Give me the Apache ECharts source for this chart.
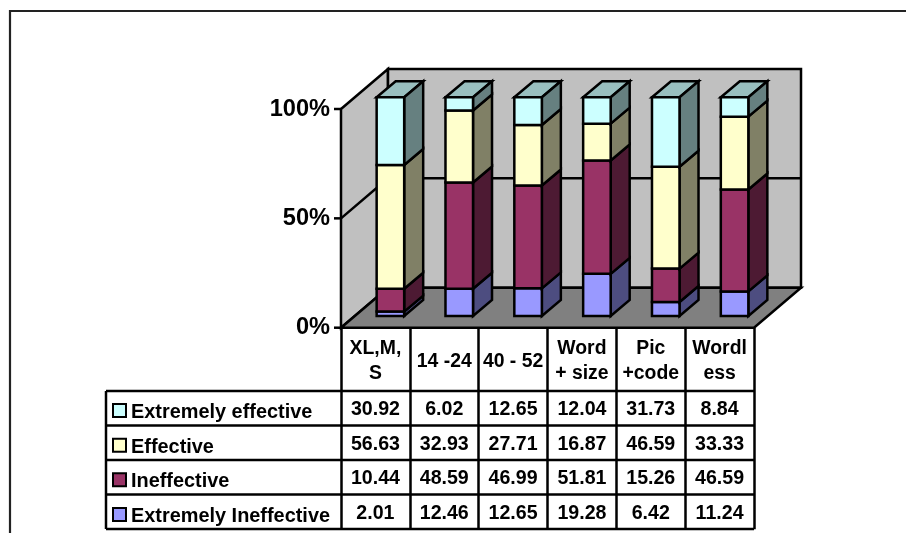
<!DOCTYPE html>
<html>
<head>
<meta charset="utf-8">
<style>
html,body{margin:0;padding:0;background:#fff}
#chart{width:906px;height:533px}
</style>
<script src="https://cdn.jsdelivr.net/npm/echarts@6/dist/echarts.min.js"></script>
</head>
<body>
<div id="chart"></div>
<script>
// Share of ratings per label style
const categories = ['XL,M,\nS', '14 -24', '40 - 52', 'Word\n+ size', 'Pic\n+code', 'Wordl\ness'];
const extremelyIneffective = [2.01, 12.46, 12.65, 19.28, 6.42, 11.24];
const ineffective = [10.44, 48.59, 46.99, 51.81, 15.26, 46.59];
const effective = [56.63, 32.93, 27.71, 16.87, 46.59, 33.33];
const extremelyEffective = [30.92, 6.02, 12.65, 12.04, 31.73, 8.84];
const percentTicks = [0, 50, 100];

const seriesNames = ['Extremely Ineffective', 'Ineffective', 'Effective', 'Extremely effective'];
const seriesValues = [extremelyIneffective, ineffective, effective, extremelyEffective];
const faceColors = [
  { front: '#9999FF', side: '#4D4D80', top: '#7A7ACC' },
  { front: '#993366', side: '#4D1A33', top: '#7A2952' },
  { front: '#FFFFCC', side: '#808066', top: '#CCCCA3' },
  { front: '#CCFFFF', side: '#668080', top: '#99BFBF' }
];

const FONT = '"Liberation Sans", Arial, sans-serif';
const LINE = 2.5;
const TICK_LEN = 7;
// Oblique projection of the chart box and of each column within it
const WALL_DX = 47, WALL_DY = 40;
const BAR_SHIFT_X = 15, BAR_SHIFT_Y = 11.7, BAR_DX = 19, BAR_DY = 16;
const BAR_RATIO = 0.4;
// Data table below the plot
const TABLE_LEFT = 106, TABLE_TOP = 391, ROW_H = 34.5, CELL_TEXT_SHIFT = 1.8;
const tableRows = seriesNames.map((_, i) => 3 - i);

const lineStyle = { stroke: '#000', lineWidth: LINE, lineJoin: 'miter' };

function poly(points, fill) {
  return { type: 'polygon', shape: { points }, style: Object.assign({ fill }, lineStyle) };
}

function renderWalls(params, api) {
  const bw = api.size([1, 0])[0];
  const x0 = api.coord([0, 0])[0] - bw / 2;
  const x1 = api.coord([categories.length - 1, 0])[0] + bw / 2;
  const y0 = api.coord([0, 0])[1];
  const y100 = api.coord([0, 100])[1];
  const children = [
    poly([[x0, y100], [x0 + WALL_DX, y100 - WALL_DY], [x0 + WALL_DX, y0 - WALL_DY], [x0, y0]], '#C0C0C0'),
    poly([[x0 + WALL_DX, y100 - WALL_DY], [x1 + WALL_DX, y100 - WALL_DY], [x1 + WALL_DX, y0 - WALL_DY], [x0 + WALL_DX, y0 - WALL_DY]], '#C0C0C0'),
    poly([[x0, y0], [x0 + WALL_DX, y0 - WALL_DY], [x1 + WALL_DX, y0 - WALL_DY], [x1, y0]], '#808080')
  ];
  percentTicks.forEach(t => {
    const y = api.coord([0, t])[1];
    children.push({ type: 'line', shape: { x1: x0 - TICK_LEN, y1: y, x2: x0, y2: y }, style: lineStyle });
  });
  percentTicks.slice(1, -1).forEach(t => {
    const y = api.coord([0, t])[1];
    children.push({
      type: 'polyline',
      shape: { points: [[x0, y], [x0 + WALL_DX, y - WALL_DY], [x1 + WALL_DX, y - WALL_DY]] },
      style: Object.assign({ fill: 'none' }, lineStyle)
    });
  });
  return { type: 'group', children };
}

function renderSegment(colors, isTop) {
  return function (params, api) {
    const bw = api.size([1, 0])[0] * BAR_RATIO;
    const c = api.value(0);
    const low = api.coord([c, api.value(1)]);
    const high = api.coord([c, api.value(2)]);
    const l = low[0] + BAR_SHIFT_X - bw / 2, r = l + bw;
    const yb = low[1] - BAR_SHIFT_Y, yt = high[1] - BAR_SHIFT_Y;
    const children = [];
    if (isTop) {
      children.push(poly([[l, yt], [l + BAR_DX, yt - BAR_DY], [r + BAR_DX, yt - BAR_DY], [r, yt]], colors.top));
    }
    children.push(poly([[r, yb], [r + BAR_DX, yb - BAR_DY], [r + BAR_DX, yt - BAR_DY], [r, yt]], colors.side));
    children.push(poly([[l, yb], [r, yb], [r, yt], [l, yt]], colors.front));
    return { type: 'group', children };
  };
}

function renderTableLines(params, api) {
  const bw = api.size([1, 0])[0];
  const x1 = api.coord([categories.length - 1, 0])[0] + bw / 2;
  const children = [];
  for (let r = 0; r <= tableRows.length; r++) {
    const y = TABLE_TOP + r * ROW_H;
    children.push({ type: 'line', shape: { x1: TABLE_LEFT, y1: y, x2: x1, y2: y }, style: lineStyle });
  }
  children.push({
    type: 'line',
    shape: { x1: TABLE_LEFT, y1: TABLE_TOP, x2: TABLE_LEFT, y2: TABLE_TOP + tableRows.length * ROW_H },
    style: lineStyle
  });
  return { type: 'group', children };
}

function renderCell(params, api) {
  const x = api.coord([api.value(0), 0])[0];
  const y = TABLE_TOP + (api.value(1) + 0.5) * ROW_H + CELL_TEXT_SHIFT;
  return {
    type: 'text',
    style: {
      text: seriesValues[tableRows.length - 1 - api.value(1)][api.value(0)].toFixed(2),
      x, y, fill: '#000', align: 'center', verticalAlign: 'middle',
      font: 'bold 19.6px ' + FONT
    }
  };
}

const cumulative = categories.map(() => 0);
const barSeries = seriesNames.map((name, s) => {
  const data = categories.map((_, c) => {
    const from = cumulative[c];
    cumulative[c] += seriesValues[s][c];
    return [c, from, cumulative[c]];
  });
  return {
    name,
    type: 'custom',
    z: 3,
    renderItem: renderSegment(faceColors[s], s === seriesNames.length - 1),
    encode: { x: 0, y: [1, 2] },
    itemStyle: { color: faceColors[s].front, borderColor: '#000', borderWidth: 2 },
    data
  };
});

const cellData = [];
tableRows.forEach((_, r) => categories.forEach((_, c) => cellData.push([c, r])));

const chart = echarts.init(document.getElementById('chart'), null, { renderer: 'canvas' });
chart.setOption({
  animation: false,
  backgroundColor: '#fff',
  grid: { left: 341, top: 109, width: 413, height: 218.7, containLabel: false },
  legend: {
    orient: 'vertical',
    left: 112,
    top: 398.5,
    padding: 0,
    icon: 'rect',
    itemWidth: 13,
    itemHeight: 13,
    itemGap: 10.67,
    selectedMode: false,
    data: seriesNames.slice().reverse(),
    formatter: name => '{t|' + name + '}',
    textStyle: {
      color: '#000',
      rich: { t: { fontFamily: FONT, fontWeight: 'bold', fontSize: 19.9, color: '#000', height: 20, lineHeight: 20, padding: [4, 0, 0, 0] } }
    }
  },
  graphic: [{
    type: 'polyline',
    silent: true,
    shape: { points: [[10, 533], [10, 11], [906, 11]] },
    style: { fill: 'none', stroke: '#222', lineWidth: 2.2 }
  }],
  xAxis: {
    type: 'category',
    data: categories,
    axisLine: { show: false },
    axisTick: { show: true, length: 201.5, lineStyle: { color: '#000', width: LINE } },
    axisLabel: {
      interval: 0, margin: 33.5, color: '#000', fontFamily: FONT, fontWeight: 'bold',
      fontSize: 19.4, lineHeight: 25, verticalAlign: 'middle', align: 'center'
    }
  },
  yAxis: {
    type: 'value',
    min: 0,
    max: 100,
    interval: 50,
    splitLine: { show: false },
    axisLine: { show: true, onZero: false, lineStyle: { color: '#000', width: LINE } },
    axisTick: { show: false },
    axisLabel: {
      margin: 11, color: '#000', fontFamily: FONT, fontWeight: 'bold', fontSize: 23.6,
      padding: [2, 0, 0, 0],
      formatter: '{value}%'
    }
  },
  series: [
    { type: 'custom', name: 'walls', z: 1, renderItem: renderWalls, silent: true, encode: { x: 0, y: 1 }, data: [[0, 0]] },
    ...barSeries,
    { type: 'custom', name: 'table lines', z: 1, renderItem: renderTableLines, silent: true, encode: { x: 0, y: 1 }, data: [[0, 0]] },
    { type: 'custom', name: 'table values', z: 4, renderItem: renderCell, silent: true, encode: { x: 0, y: 1 }, data: cellData }
  ]
});
</script>
</body>
</html>
